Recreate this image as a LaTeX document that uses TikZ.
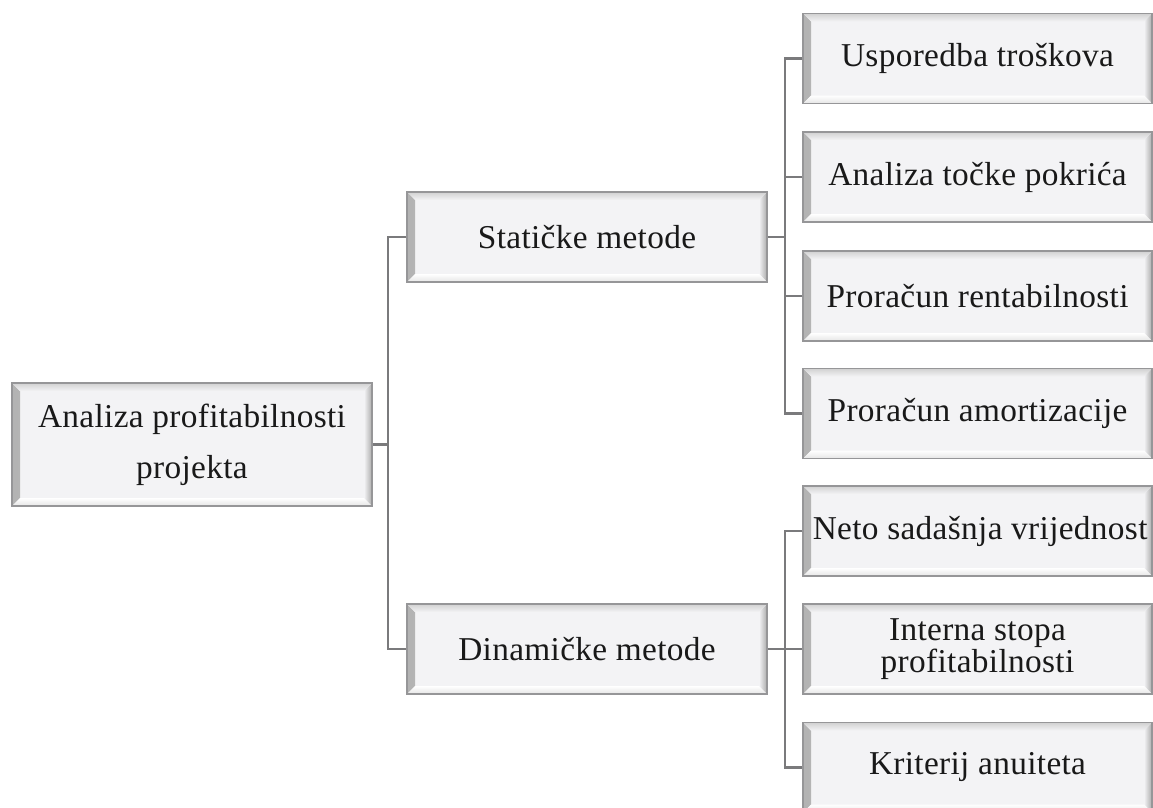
\documentclass[tikz,border=0pt]{standalone}
\usepackage{fontspec}
\setmainfont{Liberation Serif}[LetterSpace=1]
\usetikzlibrary{calc}
\definecolor{boxfill}{RGB}{243,243,245}
\definecolor{boxedge}{RGB}{150,150,152}
\definecolor{connclr}{RGB}{122,122,124}
\definecolor{txtclr}{RGB}{25,25,25}
\tikzset{
  bevelbox/.style={rectangle, inner sep=0pt, draw=boxedge, line width=0.8pt,
    fill=boxfill, align=center, text=txtclr,
    font=\fontsize{25pt}{38pt}\selectfont,
    path picture={
      \def\pb{path picture bounding box}
      % left band
      \shade[left color=black!30, right color=boxfill]
        (\pb.south west) -- (\pb.north west) -- ([shift={(6pt,-6pt)}]\pb.north west)
        -- ([shift={(6pt,6pt)}]\pb.south west) -- cycle;
      % right band
      \shade[left color=boxfill, right color=black!33]
        (\pb.south east) -- (\pb.north east) -- ([shift={(-6pt,-6pt)}]\pb.north east)
        -- ([shift={(-6pt,6pt)}]\pb.south east) -- cycle;
      % top band
      \shade[top color=black!18, bottom color=boxfill]
        (\pb.north west) -- (\pb.north east) -- ([shift={(-6pt,-6pt)}]\pb.north east)
        -- ([shift={(6pt,-6pt)}]\pb.north west) -- cycle;
      % bottom band
      \shade[top color=white, bottom color=black!10]
        (\pb.south west) -- (\pb.south east) -- ([shift={(-6pt,6pt)}]\pb.south east)
        -- ([shift={(6pt,6pt)}]\pb.south west) -- cycle;
    }},
  midbox/.style={bevelbox, minimum width=270pt, minimum height=67.5pt},
  leafbox/.style={bevelbox, minimum width=261.75pt, minimum height=67.5pt},
  conn/.style={draw=connclr, line width=2pt}
}
\begin{document}
\begin{tikzpicture}[x={(0.75pt,0)}, y={(0,-0.75pt)}]
\useasboundingbox (0,0) rectangle (1153,807);
\fill[white] (0,0) rectangle (1153,807);

\node[bevelbox, minimum width=270pt, minimum height=92.25pt] (root) at (192,444.5)
  {Analiza profitabilnosti\\projekta};

\node[midbox] (stat) at (587,237) {Statičke metode};
\node[midbox] (dyn) at (587,649) {Dinamičke metode};

\node[leafbox] (s1) at (977.5,58.5) {Usporedba troškova};
\node[leafbox] (s2) at (977.5,177) {Analiza točke pokrića};
\node[leafbox] (s3) at (977.5,296) {Proračun rentabilnosti};
\node[leafbox] (s4) at (977.5,413.5) {Proračun amortizacije};

\node[leafbox] (d1) at (977.5,531) {\hspace*{4pt}Neto sadašnja vrijednost};
\node[leafbox, font=\fontsize{25pt}{22.5pt}\selectfont] (d2) at (977.5,649) {Interna stopa\\profitabilnosti};
\node[leafbox] (d3) at (977.5,767.5) {Kriterij anuiteta};

\coordinate (b1) at (388,0);
\coordinate (b2) at (785,0);

% root level
\draw[conn] (root.east) -- (root.east -| b1);
\draw[conn] (stat.west) -- (stat.west -| b1) -- (dyn.west -| b1) -- (dyn.west);

% static children
\draw[conn] (s1.west) -- (s1.west -| b2) -- (s4.west -| b2) -- (s4.west);
\draw[conn] (s2.west) -- (s2.west -| b2);
\draw[conn] (s3.west) -- (s3.west -| b2);
\draw[conn] (stat.east) -- (stat.east -| b2);

% dynamic children
\draw[conn] (d1.west) -- (d1.west -| b2) -- (d3.west -| b2) -- (d3.west);
\draw[conn] (d2.west) -- (d2.west -| b2);
\draw[conn] (dyn.east) -- (dyn.east -| b2);
\end{tikzpicture}
\end{document}
